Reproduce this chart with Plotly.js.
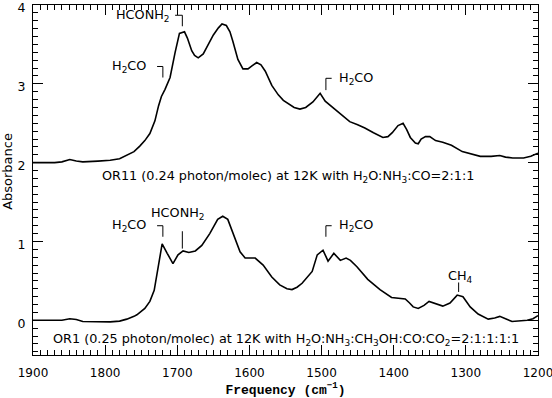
<!DOCTYPE html>
<html>
<head>
<meta charset="utf-8">
<script src="https://cdn.plot.ly/plotly-3.0.1.min.js"></script>
<style>
  html, body { margin: 0; padding: 0; background: #fff; }
  #plot { width: 552px; height: 398px; }
</style>
</head>
<body>
<div id="plot"></div>
<script>
// OR11 spectrum (offset by +2 in the figure)
const or11Freq = [1900, 1870, 1860, 1849, 1840, 1831, 1810, 1793, 1780, 1770, 1760, 1752, 1745, 1738, 1731, 1726, 1722, 1717, 1710, 1703, 1697, 1690, 1686, 1680, 1676, 1671, 1664, 1657, 1650, 1643, 1638, 1632, 1627, 1623, 1616, 1609, 1602, 1596, 1590, 1584, 1578, 1569, 1560, 1553, 1545, 1538, 1530, 1522, 1512, 1502, 1495, 1490, 1484, 1475, 1461, 1450, 1440, 1428, 1415, 1408, 1402, 1394, 1387, 1382, 1377, 1370, 1366, 1362, 1356, 1350, 1342, 1332, 1320, 1305, 1290, 1280, 1265, 1253, 1245, 1235, 1220, 1210, 1200];
const or11Abs = [2.00, 2.00, 2.01, 2.04, 2.02, 2.01, 2.02, 2.03, 2.05, 2.09, 2.14, 2.21, 2.28, 2.37, 2.53, 2.72, 2.84, 2.93, 3.08, 3.40, 3.64, 3.66, 3.58, 3.42, 3.36, 3.33, 3.38, 3.50, 3.62, 3.71, 3.76, 3.74, 3.66, 3.54, 3.31, 3.19, 3.19, 3.23, 3.27, 3.24, 3.16, 2.98, 2.86, 2.79, 2.74, 2.70, 2.68, 2.70, 2.77, 2.88, 2.78, 2.74, 2.70, 2.62, 2.52, 2.48, 2.44, 2.38, 2.32, 2.33, 2.38, 2.47, 2.50, 2.42, 2.32, 2.25, 2.24, 2.30, 2.33, 2.33, 2.28, 2.26, 2.22, 2.14, 2.10, 2.08, 2.08, 2.09, 2.07, 2.06, 2.06, 2.08, 2.12];

// OR1 spectrum
const or1Freq = [1900, 1870, 1860, 1849, 1840, 1831, 1810, 1793, 1780, 1770, 1760, 1756, 1745, 1738, 1732, 1727, 1721, 1714, 1706, 1699, 1692, 1684, 1675, 1666, 1655, 1644, 1637, 1630, 1623, 1613, 1606, 1592, 1581, 1569, 1558, 1548, 1541, 1534, 1527, 1513, 1506, 1498, 1491, 1483, 1474, 1466, 1460, 1451, 1436, 1419, 1403, 1384, 1378, 1373, 1366, 1358, 1351, 1340, 1332, 1322, 1312, 1304, 1294, 1283, 1269, 1260, 1253, 1245, 1236, 1215, 1207, 1200];
const or1Abs = [0.00, -0.005, 0.00, 0.02, 0.01, -0.015, -0.02, -0.02, -0.01, 0.015, 0.05, 0.07, 0.15, 0.24, 0.38, 0.65, 0.97, 0.85, 0.72, 0.83, 0.88, 0.86, 0.88, 0.95, 1.10, 1.28, 1.32, 1.28, 1.10, 0.87, 0.79, 0.79, 0.70, 0.55, 0.45, 0.40, 0.39, 0.42, 0.47, 0.62, 0.83, 0.89, 0.75, 0.85, 0.76, 0.79, 0.76, 0.68, 0.52, 0.39, 0.29, 0.27, 0.22, 0.17, 0.15, 0.19, 0.24, 0.20, 0.18, 0.22, 0.32, 0.30, 0.17, 0.08, 0.015, 0.03, 0.05, 0.02, -0.015, 0.00, 0.02, 0.06];

// band labels: [text, x, y, xanchor]
const bandLabels = [
  ["HCONH<sub>2</sub>", 1707, 3.87, "right"],
  ["H<sub>2</sub>CO", 1740, 3.22, "right"],
  ["H<sub>2</sub>CO", 1478, 3.07, "left"],
  ["H<sub>2</sub>CO", 1740, 1.20, "right"],
  ["HCONH<sub>2</sub>", 1699, 1.36, "center"],
  ["H<sub>2</sub>CO", 1478, 1.20, "left"],
  ["CH<sub>4</sub>", 1308, 0.55, "center"]
];
// marker brackets as polylines: [[x...],[y...]]
const bracketLines = [
  [[1703, 1693, 1693], [3.87, 3.87, 3.73]],
  [[1728, 1720, 1720], [3.22, 3.22, 3.08]],
  [[1486, 1494, 1494], [3.07, 3.07, 2.92]],
  [[1728, 1720, 1720], [1.20, 1.20, 1.06]],
  [[1693, 1693], [1.13, 0.91]],
  [[1486, 1494, 1494], [1.20, 1.20, 1.06]],
  [[1310, 1310], [0.48, 0.36]]
];
const runLabels = [
  ["OR11 (0.24 photon/molec) at 12K with H<sub>2</sub>O:NH<sub>3</sub>:CO=2:1:1", 1547, 1.83],
  ["OR1 (0.25 photon/molec) at 12K with H<sub>2</sub>O:NH<sub>3</sub>:CH<sub>3</sub>OH:CO:CO<sub>2</sub>=2:1:1:1:1", 1550, -0.245]
];

const txtFont = { family: "DejaVu Sans, sans-serif", size: 12.8, color: "#000" };

const traces = [
  { type: "scatter", mode: "lines", x: or11Freq, y: or11Abs,
    line: { color: "#000", width: 1.6 }, hoverinfo: "skip", showlegend: false },
  { type: "scatter", mode: "lines", x: or1Freq, y: or1Abs,
    line: { color: "#000", width: 1.6 }, hoverinfo: "skip", showlegend: false },
  // empty trace so the mirrored top/right axes get drawn
  { type: "scatter", mode: "lines", x: [], y: [], xaxis: "x2", yaxis: "y2",
    hoverinfo: "skip", showlegend: false }
];
bracketLines.forEach(b => {
  traces.push({ type: "scatter", mode: "lines", x: b[0], y: b[1],
    line: { color: "#000", width: 1 }, hoverinfo: "skip", showlegend: false });
});

const annotations = [];
bandLabels.forEach(l => {
  annotations.push({ text: l[0], x: l[1], y: l[2], xref: "x", yref: "y",
    xanchor: l[3], yanchor: "middle", showarrow: false, font: txtFont });
});
runLabels.forEach(l => {
  annotations.push({ text: l[0], x: l[1], y: l[2], xref: "x", yref: "y",
    xanchor: "center", yanchor: "middle", showarrow: false, font: txtFont });
});
// y axis title sits a bit above the middle in the original
annotations.push({ text: "Absorbance", xref: "paper", yref: "paper", x: -0.051, y: 0.524,
  xanchor: "center", yanchor: "middle", textangle: -90, showarrow: false,
  font: { family: "DejaVu Sans, sans-serif", size: 13, color: "#000" } });

const xRange = [1900, 1200];
const yRange = [-0.44, 4.0];

function xTicks(extra) {
  return Object.assign({
    range: xRange, autorange: false,
    tickmode: "linear", tick0: 1200, dtick: 100,
    ticks: "inside", ticklen: 10, tickwidth: 1, tickcolor: "#000",
    minor: { dtick: 10, ticks: "inside", ticklen: 5, tickwidth: 1, tickcolor: "#000", showgrid: false },
    showline: true, linecolor: "#000", linewidth: 1,
    showgrid: false, zeroline: false, ticklabeloverflow: "allow",
    tickfont: { family: "DejaVu Sans, sans-serif", size: 12, color: "#000" }
  }, extra);
}
function yTicks(extra) {
  return Object.assign({
    range: yRange, autorange: false,
    tickmode: "linear", tick0: 0, dtick: 1,
    ticks: "inside", ticklen: 10, tickwidth: 1, tickcolor: "#000",
    minor: { dtick: 0.1, ticks: "inside", ticklen: 5, tickwidth: 1, tickcolor: "#000", showgrid: false },
    showline: true, linecolor: "#000", linewidth: 1,
    showgrid: false, zeroline: false, ticklabeloverflow: "allow",
    tickfont: { family: "DejaVu Sans, sans-serif", size: 12.5, color: "#000" }
  }, extra);
}

const layout = {
  width: 552, height: 398,
  margin: { l: 33, r: 14, t: 5, b: 43 },
  paper_bgcolor: "#fff", plot_bgcolor: "#fff",
  showlegend: false,
  font: { family: "DejaVu Sans, sans-serif", size: 13, color: "#000" },
  xaxis: xTicks({
    ticklabelstandoff: 7,
    title: { text: "Frequency (cm<sup>−1</sup>)", standoff: 1,
      font: { family: "Liberation Mono, monospace", size: 13, color: "#000", weight: "bold" } }
  }),
  yaxis: yTicks({ ticklabelstandoff: 4, ticklabelshift: 3 }),
  xaxis2: xTicks({ overlaying: "x", side: "top", showticklabels: false }),
  yaxis2: yTicks({ overlaying: "y", side: "right", showticklabels: false }),
  annotations: annotations
};

Plotly.newPlot("plot", traces, layout, { staticPlot: true, displayModeBar: false });
</script>
</body>
</html>
